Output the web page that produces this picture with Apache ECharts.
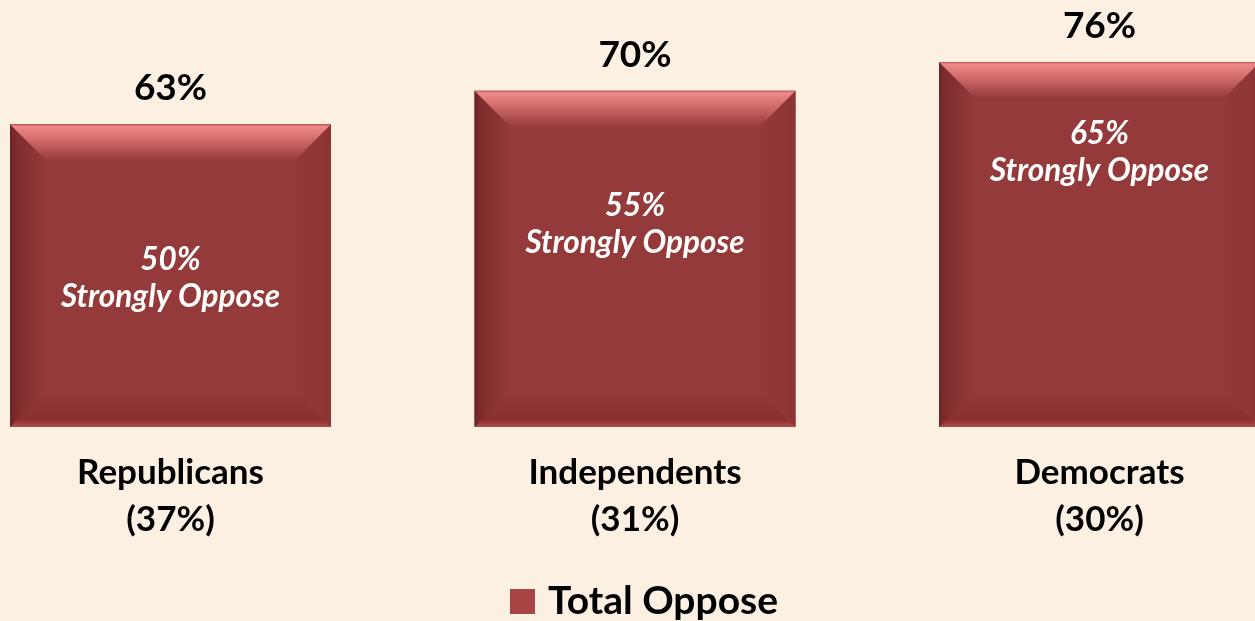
<!DOCTYPE html>
<html>
<head>
<meta charset="utf-8">
<script src="https://cdn.jsdelivr.net/npm/echarts@6/dist/echarts.min.js"></script>
<style>
html,body{margin:0;padding:0;background:#fbf0e2;}
#main{width:1255px;height:621px;}
</style>
</head>
<body>
<div id="main"></div>
<script>
// ---- data ----
const categories = ['Republicans', 'Independents', 'Democrats'];
const partyShares = ['37%', '31%', '30%'];
const totalOppose = [63, 70, 76];
const stronglyOppose = [50, 55, 65];
const seriesName = 'Total Oppose';

// ---- layout / style ----
const innerLabelOffset = [154, 134, 90]; // px below bar top
const barRatio = 0.691;
const bevel = 36;
const FONT = 'Lato, "Open Sans", sans-serif';

const chart = echarts.init(document.getElementById('main'));

function renderItem(params, api) {
  const idx = params.dataIndex;
  const xv = api.value(0), v = api.value(1);
  const topPt = api.coord([xv, v]);
  const basePt = api.coord([xv, 0]);
  const w = api.size([1, 0])[0] * barRatio;
  const cx = topPt[0];
  const l = cx - w / 2, r = cx + w / 2, t = topPt[1], b = basePt[1];
  const bv = bevel;
  const lg = (x1, y1, x2, y2, stops) => new echarts.graphic.LinearGradient(x1, y1, x2, y2, stops);
  return {
    type: 'group',
    children: [
      { type: 'rect', shape: { x: l, y: t, width: r - l, height: b - t }, style: { fill: '#953a3a' } },
      { type: 'polygon', shape: { points: [[l, b], [l + bv, b - bv], [r - bv, b - bv], [r, b]] },
        style: { fill: lg(0, 0, 0, 1, [{offset: 0, color: '#953a3a'}, {offset: 0.8, color: '#8b3030'}, {offset: 1, color: '#b24a4a'}]) } },
      { type: 'polygon', shape: { points: [[l, t], [l + bv, t + bv], [l + bv, b - bv], [l, b]] },
        style: { fill: lg(0, 0, 1, 0, [{offset: 0, color: '#6a2525'}, {offset: 0.15, color: '#7c2c2c'}, {offset: 1, color: '#953a3a'}]) } },
      { type: 'polygon', shape: { points: [[r, t], [r - bv, t + bv], [r - bv, b - bv], [r, b]] },
        style: { fill: lg(0, 0, 1, 0, [{offset: 0, color: '#943939'}, {offset: 1, color: '#8c3434'}]) } },
      { type: 'polygon', shape: { points: [[l, t], [r, t], [r - bv, t + bv], [l + bv, t + bv]] },
        style: { fill: lg(0, 0, 0, 1, [{offset: 0, color: '#c05656'}, {offset: 0.06, color: '#ee8a8a'}, {offset: 0.35, color: '#d87272'}, {offset: 1, color: '#953a3a'}]) } },
      { type: 'text', x: cx, y: t - 36,
        style: { text: totalOppose[idx] + '%', font: 'bold 37px ' + FONT, fill: '#000', align: 'center', verticalAlign: 'middle' } },
      { type: 'text', x: cx, y: t + innerLabelOffset[idx],
        style: { text: stronglyOppose[idx] + '%\nStrongly Oppose', font: 'italic bold 31.5px ' + FONT, lineHeight: 37,
                 fill: '#ffffff', align: 'center', verticalAlign: 'middle' } }
    ]
  };
}

chart.setOption({
  backgroundColor: '#fbf0e2',
  animation: false,
  grid: { left: -61.75, width: 1393.5, top: 42.7, height: 384.3, outerBoundsMode: 'none', containLabel: false },
  xAxis: {
    type: 'category',
    data: categories,
    axisLine: { show: false },
    axisTick: { show: false },
    axisLabel: {
      margin: 22,
      interval: 0,
      formatter: (val, i) => val + '\n(' + partyShares[i] + ')',
      fontFamily: FONT, fontWeight: 'bold', fontSize: 35, lineHeight: 47, color: '#000'
    }
  },
  yAxis: { type: 'value', min: 0, max: 80, show: false, splitLine: { show: false } },
  legend: {
    data: [{ name: seriesName, icon: 'rect' }],
    left: 505, top: 577,
    itemWidth: 25, itemHeight: 25,
    textStyle: { fontFamily: FONT, fontWeight: 'bold', fontSize: 39, color: '#000', padding: [0, 0, 0, 8] }
  },
  series: [{
    name: seriesName,
    type: 'custom',
    clip: false,
    itemStyle: { color: '#a84444' },
    data: categories.map((c, i) => [i, totalOppose[i]]),
    encode: { x: 0, y: 1 },
    renderItem: renderItem
  }]
});
</script>
</body>
</html>
